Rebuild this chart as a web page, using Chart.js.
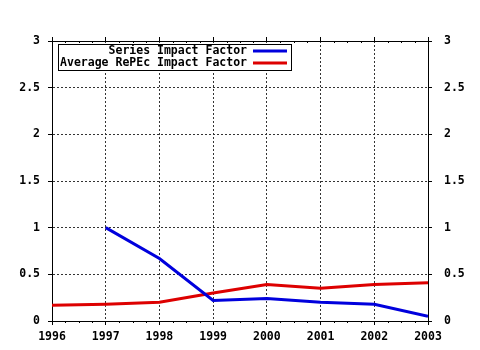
<!DOCTYPE html>
<html>
<head>
<meta charset="utf-8">
<script src="https://cdn.jsdelivr.net/npm/chart.js@4.4.0/dist/chart.umd.min.js"></script>
<style>
  html, body { margin: 0; padding: 0; background: #fff; }
  #wrap { width: 480px; height: 350px; }
</style>
</head>
<body>
<div id="wrap"><canvas id="impactChart" width="480" height="350"></canvas></div>
<script>
// Impact factor chart

const years = [1996, 1997, 1998, 1999, 2000, 2001, 2002, 2003];
const seriesImpact = [null, 1.0, 0.67, 0.22, 0.24, 0.20, 0.18, 0.05];
const averageRepec = [0.17, 0.18, 0.20, 0.30, 0.39, 0.35, 0.39, 0.41];
const seriesLabels = ['Series Impact Factor', 'Average RePEc Impact Factor'];
const yTicks = [0, 0.5, 1, 1.5, 2, 2.5, 3];

const FONT = "'DejaVu Sans Mono', monospace";
const BLUE = '#0000dd';
const RED = '#dd0000';

const toPoints = (vals) => years.map((yr, i) => ({ x: yr, y: vals[i] }));

// small ticks between years, on top and bottom frame lines
const minorTicks = {
    id: 'minorTicks',
    afterDraw(chart) {
        const { ctx, chartArea } = chart;
        const xs = chart.scales.x;
        ctx.save();
        ctx.strokeStyle = '#000';
        ctx.lineWidth = 1;
        ctx.beginPath();
        for (let i = 0; i < years.length - 1; i++) {
            for (let q = 1; q < 4; q++) {
                const px = Math.round(xs.getPixelForValue(years[i] + q / 4)) + 0.5;
                ctx.moveTo(px, chartArea.bottom);
                ctx.lineTo(px, chartArea.bottom + 2);
                ctx.moveTo(px, chartArea.top);
                ctx.lineTo(px, chartArea.top + 2);
            }
        }
        ctx.stroke();
        ctx.restore();
    }
};

// boxed legend inside the plot, text right aligned with a line sample
const boxLegend = {
    id: 'boxLegend',
    afterDatasetsDraw(chart) {
        const { ctx, chartArea } = chart;
        const left = chartArea.left + 6;
        const top = chartArea.top + 3;
        const w = 233, h = 26;
        ctx.save();
        ctx.fillStyle = '#fff';
        ctx.fillRect(left, top, w, h);
        ctx.strokeStyle = '#000';
        ctx.lineWidth = 1;
        ctx.strokeRect(left + 0.5, top + 0.5, w, h);
        ctx.font = "bold 11.5px " + FONT;
        ctx.textAlign = 'right';
        ctx.textBaseline = 'middle';
        chart.data.datasets.forEach((ds, i) => {
            const cy = top + 7 + i * 12;
            ctx.fillStyle = '#000';
            ctx.fillText(ds.label, left + 189, cy);
            ctx.strokeStyle = ds.borderColor;
            ctx.lineWidth = 3;
            ctx.beginPath();
            ctx.moveTo(left + 195, cy);
            ctx.lineTo(left + 229, cy);
            ctx.stroke();
        });
        ctx.restore();
    }
};

Chart.defaults.font.family = FONT;
Chart.defaults.font.weight = 'bold';
Chart.defaults.font.size = 11.5;
Chart.defaults.color = '#000';

new Chart(document.getElementById('impactChart'), {
    type: 'line',
    data: {
        datasets: [
            {
                label: seriesLabels[0],
                data: toPoints(seriesImpact),
                borderColor: BLUE,
                borderWidth: 3,
                pointRadius: 0,
                tension: 0,
                fill: false
            },
            {
                label: seriesLabels[1],
                data: toPoints(averageRepec),
                borderColor: RED,
                borderWidth: 3,
                pointRadius: 0,
                tension: 0,
                fill: false
            }
        ]
    },
    plugins: [minorTicks, boxLegend],
    options: {
        responsive: false,
        animation: false,
        devicePixelRatio: 1,
        layout: { padding: { top: 41, left: 0, right: 0, bottom: 0 } },
        plugins: { legend: { display: false }, tooltip: { enabled: false } },
        scales: {
            x: {
                type: 'linear',
                position: 'bottom',
                min: years[0],
                max: years[years.length - 1],
                afterBuildTicks: (s) => { s.ticks = years.map(v => ({ value: v })); },
                afterFit: (s) => { s.height = 29; },
                ticks: { padding: 5, callback: (v) => String(v), maxRotation: 0 },
                grid: { color: '#333', lineWidth: 1, tickLength: 4, tickColor: '#000' },
                border: { display: true, color: '#000', width: 1, dash: [2, 2] }
            },
            xTop: {
                type: 'linear',
                position: 'top',
                min: years[0],
                max: years[years.length - 1],
                afterBuildTicks: (s) => { s.ticks = years.map(v => ({ value: v })); },
                afterFit: (s) => { s.height = 0; },
                ticks: { display: false },
                grid: { drawOnChartArea: false, tickLength: 4, tickColor: '#000' },
                border: { display: true, color: '#000', width: 1 }
            },
            y: {
                position: 'left',
                min: 0,
                max: 3,
                afterBuildTicks: (s) => { s.ticks = yTicks.map(v => ({ value: v })); },
                afterFit: (s) => { s.width = 52; },
                ticks: { padding: 8, callback: (v) => String(v) },
                grid: { color: '#333', lineWidth: 1, tickLength: 4, tickColor: '#000' },
                border: { display: true, color: '#000', width: 1, dash: [2, 2] }
            },
            y2: {
                position: 'right',
                min: 0,
                max: 3,
                afterBuildTicks: (s) => { s.ticks = yTicks.map(v => ({ value: v })); },
                afterFit: (s) => { s.width = 52; },
                ticks: { padding: 12, callback: (v) => String(v) },
                grid: { drawOnChartArea: false, tickLength: 4, tickColor: '#000' },
                border: { display: true, color: '#000', width: 1 }
            }
        }
    }
});
</script>
</body>
</html>
